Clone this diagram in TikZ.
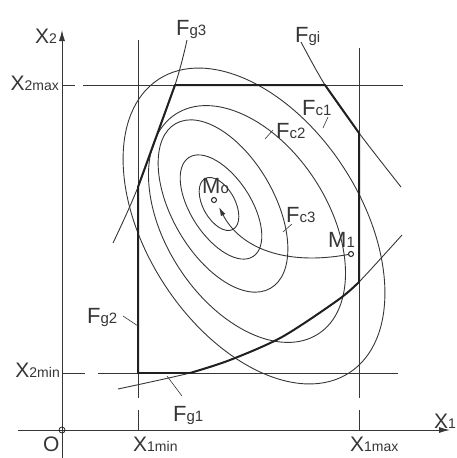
\documentclass[tikz,border=0pt]{standalone}
\usepackage{fontspec}
\setmainfont{Liberation Sans}
\usetikzlibrary{arrows.meta}
\definecolor{clLine}{HTML}{363636}
\definecolor{clBound}{HTML}{202020}
\newcommand{\sym}[2]{{\fontsize{21}{21}\selectfont #1}{\fontsize{14}{14}\selectfont #2}}
\newcommand{\fsym}[2]{{\fontsize{22}{22}\selectfont #1}{\fontsize{15}{15}\selectfont #2}}
\tikzset{
  thinline/.style={draw=clLine, line width=0.9pt},
  bound/.style={draw=clBound, line width=2pt, line join=round, line cap=round},
  axis/.style={draw=clLine, line width=0.9pt, -{Latex[length=11pt,width=6pt]}},
  lbl/.style={inner sep=0pt, text=clLine},
  leader/.style={draw=clLine, line width=0.6pt},
  ptmark/.style={circle, draw=clBound, line width=1pt, fill=white, inner sep=0pt, minimum size=5pt},
}

\begin{document}
\begin{tikzpicture}[x=1pt,y=-1pt]
  \useasboundingbox (0,0) rectangle (457,458);
  % axes
  \draw[axis] (18,430) -- (450,430);
  \draw[axis] (62,458) -- (62,30);
  \node[ptmark, minimum size=6pt, fill=none, line width=0.8pt] (orig) at (62,430) {};
  % bounds x1min, x1max, x2min, x2max
  \draw[thinline] (62,85) -- (75,85) (83,85) -- (403,85);
  \draw[thinline] (62,373) -- (85,373) (98,373) -- (398,373);
  \draw[thinline] (138,40) -- (138,398) (138,410) -- (138,430);
  \draw[thinline] (359,48) -- (359,398) (359,410) -- (359,430);
  % level curves Fc
  \foreach \cx/\cy/\ra/\rb/\ang in {254/226/175/107/57, 247/224/131/81/57,
      223/206/95/51/60, 221/207/59/30/57, 219/204/29/16/61}
    \draw[thinline, rotate around={-\ang:(\cx,\cy)}] (\cx,\cy) ellipse [x radius=\ra pt, y radius=\rb pt];
  % constraints Fg
  \draw[thinline] plot[smooth] coordinates {(187,40) (175,85) (138,187) (113,243)};
  \draw[thinline] plot[smooth] coordinates {(301,42) (325,85) (359,133) (401,187)};
  \draw[thinline] plot[smooth] coordinates {(118,389) (190,373) (230,360) (282,337) (338,300) (359,282) (402,235)};
  % feasible region
  \draw[bound] (138,373) -- (138,187) -- (175,85) -- (325,85) -- (359,133) -- (359,282);
  \draw[bound] plot[smooth] coordinates {(190,373) (230,360) (282,337) (338,300) (359,282)};
  \draw[bound] (190,373) -- (138,373);
  % search path
  \node[ptmark] (M0) at (214,200) {};
  \node[ptmark] (M1) at (351,254) {};
  \coordinate (tip) at (219,207);
  \draw[thinline, -{Latex[length=9pt,width=5pt]}] (M1) .. controls (285,266) and (240,248) .. (tip);
  % labels
  \node[lbl, anchor=base east] (lx2) at (57,43) {\sym{X}{2}};
  \node[lbl, anchor=base east] (lx2max) at (59,90) {\sym{X}{2max}};
  \node[lbl, anchor=base east] (lx2min) at (60,377) {\sym{X}{2min}};
  \node[lbl, anchor=base west] (lo) at (43,451) {\sym{O}{}};
  \node[lbl, anchor=base west] (lx1min) at (133,451) {\sym{X}{1min}};
  \node[lbl, anchor=base west] (lx1max) at (350,451) {\sym{X}{1max}};
  \node[lbl, anchor=base west] (lx1) at (434,428) {\sym{X}{1}};
  \node[lbl, anchor=base west] (lfg3) at (176,35) {\fsym{F}{g3}};
  \node[lbl, anchor=base west] (lfgi) at (295,42) {\fsym{F}{gi}};
  \node[lbl, anchor=base west] (lfc1) at (302,115) {\fsym{F}{c1}};
  \node[lbl, anchor=base west] (lfc2) at (276,138) {\fsym{F}{c2}};
  \node[lbl, anchor=base west] (lfc3) at (286,222) {\fsym{F}{c3}};
  \node[lbl, anchor=base west] (lm1) at (328,247) {\fsym{M}{1}};
  \node[lbl, anchor=base west] (lm0) at (202,193) {\fsym{M}{o}};
  \node[lbl, anchor=base west] (lfg2) at (87,323) {\fsym{F}{g2}};
  \node[lbl, anchor=base west] (lfg1) at (173,421) {\fsym{F}{g1}};
  % leaders
  \coordinate (c1a) at (328,117); \coordinate (c1b) at (323,128);
  \coordinate (c2a) at (273,130); \coordinate (c2b) at (265,139);
  \coordinate (c3a) at (292,224); \coordinate (c3b) at (283,232);
  \coordinate (g2a) at (123,316); \coordinate (g2b) at (138,326);
  \coordinate (g1a) at (182,396); \coordinate (g1b) at (167,376);
  \draw[leader] (c1a) -- (c1b);
  \draw[leader] (c2a) -- (c2b);
  \draw[leader] (c3a) -- (c3b);
  \draw[leader] (g2a) -- (g2b);
  \draw[leader] (g1a) -- (g1b);
\end{tikzpicture}
\end{document}
